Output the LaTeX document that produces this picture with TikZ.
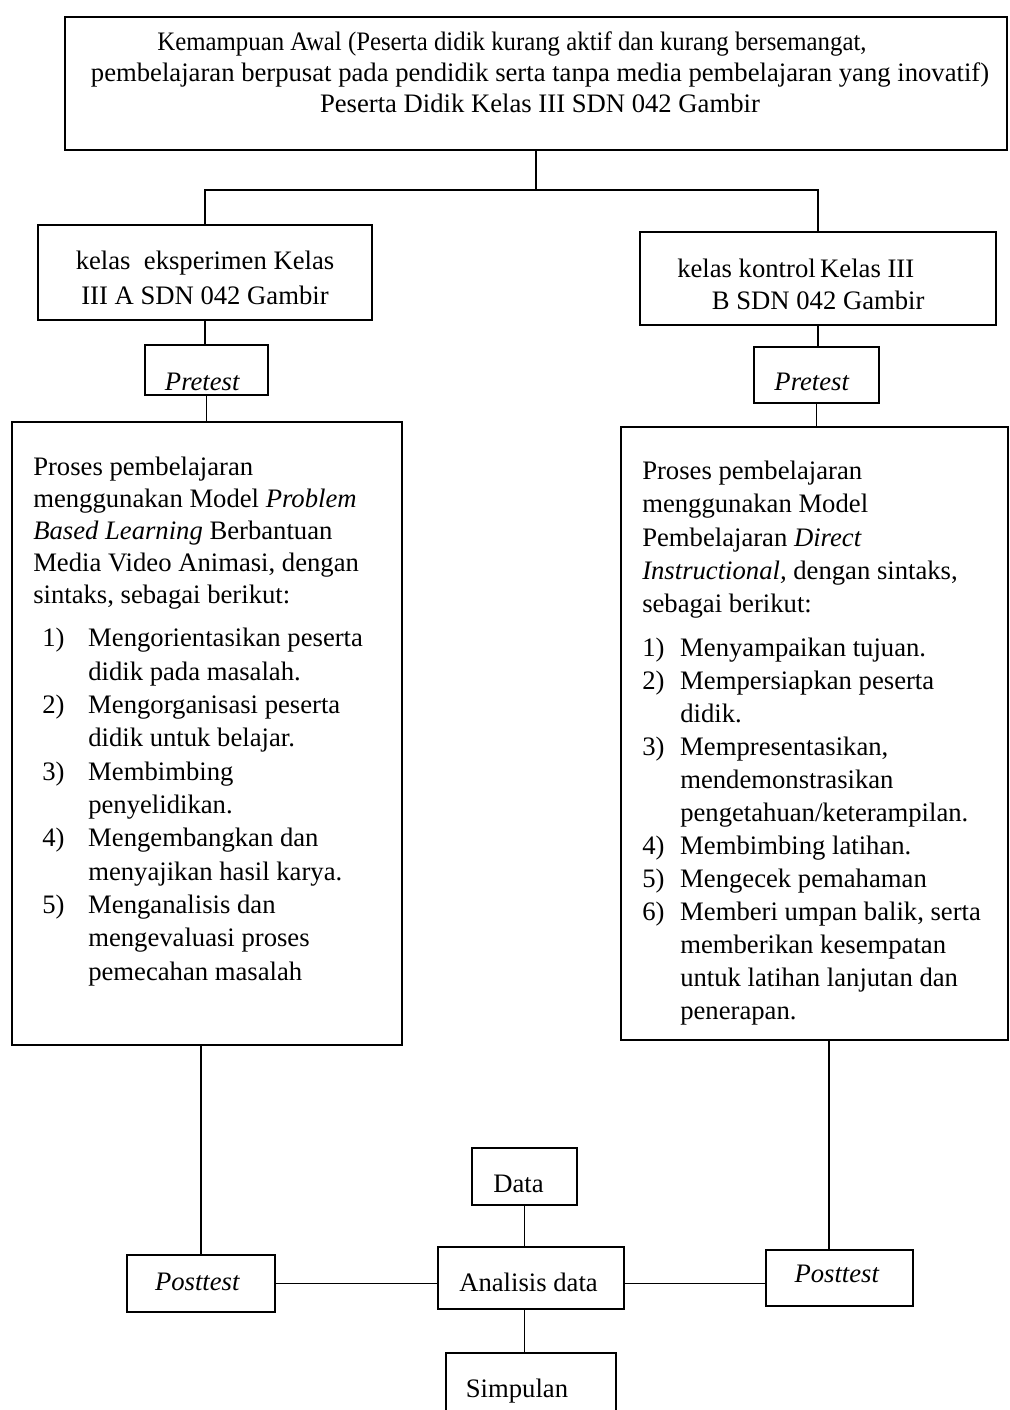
\documentclass[tikz,border=0pt]{standalone}
\usepackage{fontspec}
\setmainfont{Liberation Serif}
\newcommand{\lnum}[2]{\makebox[#1][l]{#2}}
\begin{document}
\begin{tikzpicture}[x=0.75pt,y=-0.75pt,
  boxst/.style={draw=black, line width=1.5pt, inner sep=0pt},
  conn/.style={draw=black, line width=0.95pt},
  txt/.style={inner sep=0pt, font=\fontsize{20}{24}\selectfont}]
\clip (0,0) rectangle (1010,1410);
\fill[white] (0,0) rectangle (1010,1410);
% boxes
\node[boxst, minimum width=942*0.75pt, minimum height=133*0.75pt] (top) at (536,83.5) {};
\node[boxst, minimum width=334*0.75pt, minimum height=95*0.75pt] (eks) at (205,272.5) {};
\node[boxst, minimum width=356*0.75pt, minimum height=93*0.75pt] (kon) at (818,278.5) {};
\node[boxst, minimum width=123*0.75pt, minimum height=50*0.75pt] (preL) at (206.5,370) {};
\node[boxst, minimum width=125*0.75pt, minimum height=56*0.75pt] (preR) at (816.5,375) {};
\node[boxst, minimum width=390*0.75pt, minimum height=623*0.75pt] (bigL) at (207,733.5) {};
\node[boxst, minimum width=387*0.75pt, minimum height=613*0.75pt] (bigR) at (814,733.5) {};
\node[boxst, minimum width=148*0.75pt, minimum height=57*0.75pt] (postL) at (201,1283.5) {};
\node[boxst, minimum width=186*0.75pt, minimum height=62*0.75pt] (ana) at (531,1278) {};
\node[boxst, minimum width=105*0.75pt, minimum height=57*0.75pt] (data) at (524.5,1176.5) {};
\node[boxst, minimum width=170*0.75pt, minimum height=64*0.75pt] (simp) at (531,1385) {};
\node[boxst, minimum width=147*0.75pt, minimum height=56*0.75pt] (postR) at (839.5,1278) {};
% helper coordinates
\coordinate (split) at (536,190);
\coordinate (rv) at (829,0);
% connectors
\draw[conn] (top.south) -- (split);
\draw[conn] (eks.north) |- (split) -| (kon.north);
\draw[conn] (eks.south) -- (eks.south |- preL.north);
\draw[conn] (preL.south) -- (preL.south |- bigL.north);
\draw[conn] (kon.south) -- (kon.south |- preR.north);
\draw[conn] (preR.south) -- (preR.south |- bigR.north);
\draw[conn] (bigL.south -| postL.north) -- (postL.north);
\draw[conn] (bigR.south -| rv) -- (postR.north -| rv);
\draw[conn] (data.south) -- (data.south |- ana.north);
\draw[conn] (ana.south -| data.south) -- (simp.north -| data.south);
\draw[conn] (postL.east) -- (postL.east -| ana.west);
\draw[conn] (ana.east |- postL.east) -- (postR.west |- postL.east);
% texts
\node[txt, anchor=north, align=center, font=\fontsize{20}{23.6}\selectfont] (toptxt) at (540,31)
  {\scalebox{0.93}[1]{Kemampuan Awal (Peserta didik kurang aktif dan kurang bersemangat,}\hspace*{42pt}\\
   pembelajaran berpusat pada pendidik serta tanpa media pembelajaran yang inovatif)\\
   Peserta Didik Kelas III SDN 042 Gambir};
\node[txt, anchor=north, align=center, font=\fontsize{20}{26}\selectfont] (ekstxt) at (205,251)
  {kelas\ \ eksperimen Kelas\\ III A SDN 042 Gambir};
\node[txt, anchor=north west, align=left, font=\fontsize{20}{24}\selectfont] (kontxt) at (677,259)
  {kelas kontrol\,Kelas III\\ \hspace*{26pt}B SDN 042 Gambir};
\node[txt, anchor=base] (preLtxt) at (202.5,390) {\textit{Pretest}};
\node[txt, anchor=base] (preRtxt) at (812,390) {\textit{Pretest}};
\node[txt, anchor=north west, align=left, font=\fontsize{20}{24}\selectfont] (introL) at (33,457)
  {Proses pembelajaran\\
   menggunakan Model \textit{Problem}\\
   \textit{Based Learning} Berbantuan\\
   Media Video Animasi, dengan\\
   sintaks, sebagai berikut:};
\node[txt, anchor=north west, align=left, font=\fontsize{20}{25}\selectfont] (listL) at (42,628)
  {\lnum{34.5pt}{1)}Mengorientasikan peserta\\
   \lnum{34.5pt}{}didik pada masalah.\\
   \lnum{34.5pt}{2)}Mengorganisasi peserta\\
   \lnum{34.5pt}{}didik untuk belajar.\\
   \lnum{34.5pt}{3)}Membimbing\\
   \lnum{34.5pt}{}penyelidikan.\\
   \lnum{34.5pt}{4)}Mengembangkan dan\\
   \lnum{34.5pt}{}menyajikan hasil karya.\\
   \lnum{34.5pt}{5)}Menganalisis dan\\
   \lnum{34.5pt}{}mengevaluasi proses\\
   \lnum{34.5pt}{}pemecahan masalah};
\node[txt, anchor=north west, align=left, font=\fontsize{20}{24.9}\selectfont] (introR) at (642,461)
  {Proses pembelajaran\\
   menggunakan Model\\
   Pembelajaran \textit{Direct}\\
   \textit{Instructional,} dengan sintaks,\\
   sebagai berikut:};
\node[txt, anchor=north west, align=left, font=\fontsize{20}{24.7}\selectfont] (listR) at (642,638)
  {\lnum{28.5pt}{1)}Menyampaikan tujuan.\\
   \lnum{28.5pt}{2)}Mempersiapkan peserta\\
   \lnum{28.5pt}{}didik.\\
   \lnum{28.5pt}{3)}Mempresentasikan,\\
   \lnum{28.5pt}{}mendemonstrasikan\\
   \lnum{28.5pt}{}pengetahuan/keterampilan.\\
   \lnum{28.5pt}{4)}Membimbing latihan.\\
   \lnum{28.5pt}{5)}Mengecek pemahaman\\
   \lnum{28.5pt}{6)}Memberi umpan balik, serta\\
   \lnum{28.5pt}{}memberikan kesempatan\\
   \lnum{28.5pt}{}untuk latihan lanjutan dan\\
   \lnum{28.5pt}{}penerapan.};
\node[txt, anchor=base] (postLtxt) at (197.5,1290) {\textit{Posttest}};
\node[txt, anchor=base] (anatxt) at (528.5,1291) {Analisis data};
\node[txt, anchor=base] (datatxt) at (518.5,1192) {Data};
\node[txt, anchor=base] (simptxt) at (517,1397) {Simpulan};
\node[txt, anchor=base] (postRtxt) at (837,1282) {\textit{Posttest}};
\end{tikzpicture}
\end{document}
